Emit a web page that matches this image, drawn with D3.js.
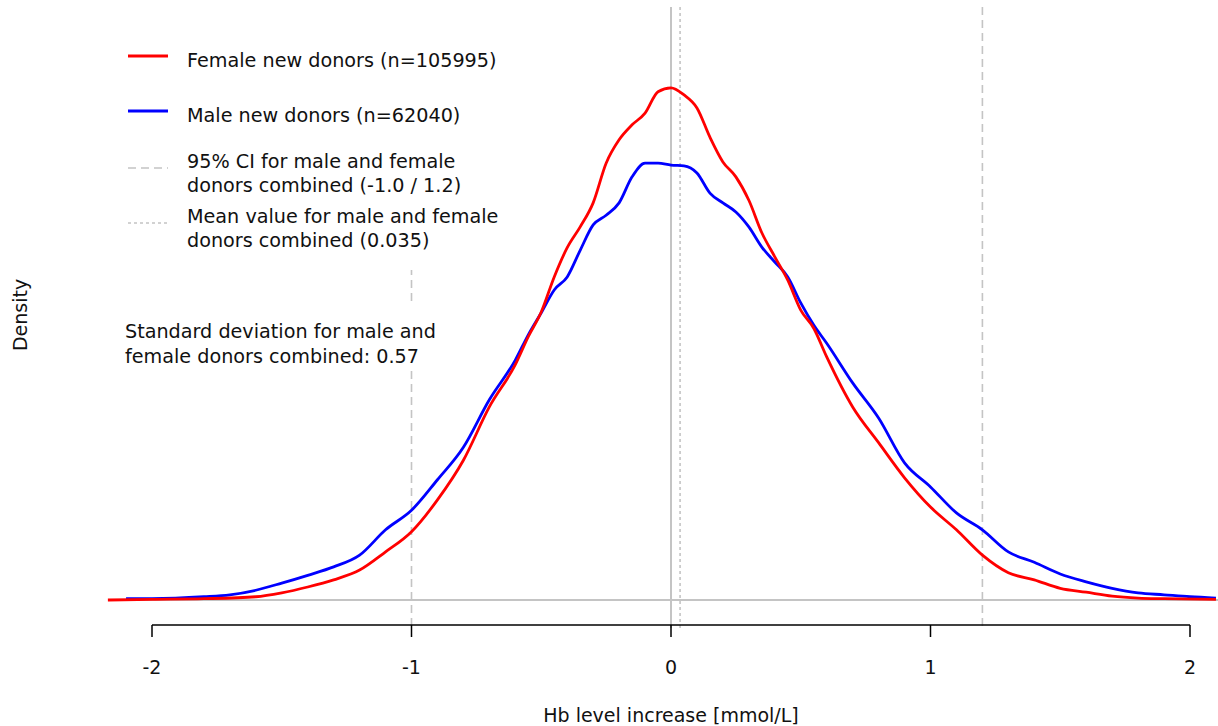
<!DOCTYPE html>
<html>
<head>
<meta charset="utf-8">
<script src="https://cdn.jsdelivr.net/npm/d3@7"></script>
<style>
  html, body { margin: 0; padding: 0; background: #fff; }
  svg { display: block; }
  text { font-family: "DejaVu Sans", "Liberation Sans", Arial, sans-serif; fill: #111; }
</style>
</head>
<body>
<svg id="chart" width="1218" height="726"></svg>
<script>
// ---- data ----
const femaleX = [-2.17, -2.0, -1.8, -1.6, -1.5, -1.4, -1.3, -1.2, -1.1, -1.0, -0.9, -0.8, -0.7, -0.6, -0.55, -0.5, -0.45, -0.4, -0.35, -0.3, -0.25, -0.2, -0.15, -0.1, -0.05, 0, 0.05, 0.1, 0.15, 0.2, 0.25, 0.3, 0.35, 0.4, 0.45, 0.5, 0.55, 0.6, 0.7, 0.8, 0.9, 1.0, 1.1, 1.2, 1.3, 1.4, 1.5, 1.6, 1.7, 1.8, 1.9, 2.1];
const femaleDensity = [0, 0.001, 0.002, 0.005, 0.011, 0.020, 0.031, 0.046, 0.074, 0.105, 0.154, 0.215, 0.297, 0.362, 0.405, 0.443, 0.497, 0.542, 0.574, 0.611, 0.672, 0.708, 0.731, 0.749, 0.782, 0.788, 0.777, 0.757, 0.712, 0.674, 0.651, 0.615, 0.565, 0.528, 0.492, 0.446, 0.418, 0.374, 0.297, 0.242, 0.188, 0.143, 0.108, 0.069, 0.042, 0.031, 0.018, 0.012, 0.006, 0.003, 0.002, 0.001];

const maleX = [-2.1, -2.0, -1.8, -1.7, -1.6, -1.5, -1.4, -1.3, -1.2, -1.1, -1.0, -0.9, -0.8, -0.7, -0.6, -0.55, -0.5, -0.45, -0.4, -0.35, -0.3, -0.25, -0.2, -0.15, -0.1, -0.05, 0, 0.05, 0.1, 0.15, 0.2, 0.25, 0.3, 0.35, 0.4, 0.45, 0.5, 0.55, 0.6, 0.7, 0.8, 0.9, 1.0, 1.1, 1.2, 1.3, 1.4, 1.5, 1.6, 1.7, 1.8, 1.9, 2.0, 2.1];
const maleDensity = [0.002, 0.002, 0.005, 0.008, 0.015, 0.026, 0.038, 0.051, 0.069, 0.108, 0.138, 0.185, 0.235, 0.308, 0.369, 0.408, 0.442, 0.477, 0.497, 0.538, 0.577, 0.592, 0.611, 0.651, 0.672, 0.672, 0.669, 0.668, 0.657, 0.626, 0.611, 0.597, 0.574, 0.543, 0.520, 0.497, 0.457, 0.423, 0.395, 0.334, 0.280, 0.211, 0.174, 0.134, 0.108, 0.074, 0.058, 0.040, 0.028, 0.018, 0.011, 0.008, 0.005, 0.003];

const xTicks = [-2, -1, 0, 1, 2];
const ciBounds = [-1.0, 1.2];
const meanValue = 0.035;

const legendLabels = [
  ["Female new donors (n=105995)"],
  ["Male new donors (n=62040)"],
  ["95% CI for male and female", "donors combined (-1.0 / 1.2)"],
  ["Mean value for male and female", "donors combined (0.035)"]
];
const sdLabel = ["Standard deviation for male and", "female donors combined: 0.57"];
const xTitle = "Hb level increase [mmol/L]";
const yTitle = "Density";

// ---- drawing ----
const svg = d3.select("#chart");
const W = 1218, H = 726;

const x = d3.scaleLinear().domain([-2, 2]).range([152, 1190]);
const y = d3.scaleLinear().domain([0, 0.8]).range([600, 80]);

const plotTop = 7, plotBottom = 628, plotLeft = 108;

// reference lines
svg.append("line")
  .attr("x1", plotLeft).attr("x2", W)
  .attr("y1", y(0)).attr("y2", y(0))
  .attr("stroke", "#c4c4c4").attr("stroke-width", 2);

svg.append("line")
  .attr("x1", x(0)).attr("x2", x(0))
  .attr("y1", plotTop).attr("y2", plotBottom)
  .attr("stroke", "#c4c4c4").attr("stroke-width", 2);

svg.append("line")
  .attr("x1", x(meanValue)).attr("x2", x(meanValue))
  .attr("y1", plotTop).attr("y2", plotBottom)
  .attr("stroke", "#c4c4c4").attr("stroke-width", 1.6)
  .attr("stroke-dasharray", "3,3");

ciBounds.forEach(v => {
  svg.append("line")
    .attr("x1", x(v)).attr("x2", x(v))
    .attr("y1", plotTop).attr("y2", plotBottom)
    .attr("stroke", "#c4c4c4").attr("stroke-width", 1.6)
    .attr("stroke-dasharray", "8,5");
});

// density curves
const line = d3.line().x(d => x(d[0])).y(d => y(d[1])).curve(d3.curveMonotoneX);
const maleData = maleX.map((v, i) => [v, maleDensity[i]]);
const femaleData = femaleX.map((v, i) => [v, femaleDensity[i]]);

svg.append("path").datum(maleData)
  .attr("d", line).attr("fill", "none")
  .attr("stroke", "#0000ff").attr("stroke-width", 2.8)
  .attr("stroke-linejoin", "round");
svg.append("path").datum(femaleData)
  .attr("d", line).attr("fill", "none")
  .attr("stroke", "#ff0000").attr("stroke-width", 2.8)
  .attr("stroke-linejoin", "round");

// legend box (white background)
svg.append("rect").attr("x", plotLeft + 2).attr("y", 0)
  .attr("width", 405).attr("height", 270).attr("fill", "#fff");

const legendRows = [
  { ys: [66.5], sy: 56, color: "#ff0000", width: 3, dash: null },
  { ys: [121.5], sy: 111, color: "#0000ff", width: 3, dash: null },
  { ys: [167.5, 192], sy: 168, color: "#c4c4c4", width: 1.5, dash: "8,5" },
  { ys: [222.5, 247], sy: 223, color: "#c4c4c4", width: 1.5, dash: "3,3" }
];
legendRows.forEach((r, i) => {
  const ln = svg.append("line")
    .attr("x1", 128).attr("x2", 168)
    .attr("y1", r.sy).attr("y2", r.sy)
    .attr("stroke", r.color).attr("stroke-width", r.width);
  if (r.dash) ln.attr("stroke-dasharray", r.dash);
  legendLabels[i].forEach((t, j) => {
    svg.append("text").attr("x", 187).attr("y", r.ys[j])
      .attr("font-size", 19.2).text(t);
  });
});

// SD annotation with white background
svg.append("rect").attr("x", 118).attr("y", 303)
  .attr("width", 322).attr("height", 63).attr("fill", "#fff");
sdLabel.forEach((t, j) => {
  svg.append("text").attr("x", 125).attr("y", 337.5 + j * 25)
    .attr("font-size", 19.2).text(t);
});

// x axis
const axisY = 625;
svg.append("line")
  .attr("x1", x(-2)).attr("x2", x(2))
  .attr("y1", axisY).attr("y2", axisY)
  .attr("stroke", "#000").attr("stroke-width", 1.5);
svg.selectAll(".tick").data(xTicks).enter().append("line")
  .attr("x1", d => x(d)).attr("x2", d => x(d))
  .attr("y1", axisY).attr("y2", axisY + 12)
  .attr("stroke", "#000").attr("stroke-width", 1.5);
svg.selectAll(".ticklabel").data(xTicks).enter().append("text")
  .attr("x", d => x(d)).attr("y", 674)
  .attr("text-anchor", "middle").attr("font-size", 19)
  .text(d => d);

// titles
svg.append("text").attr("x", x(0)).attr("y", 722)
  .attr("text-anchor", "middle").attr("font-size", 19).text(xTitle);
svg.append("text")
  .attr("transform", "translate(27,315) rotate(-90)")
  .attr("text-anchor", "middle").attr("font-size", 19).text(yTitle);
</script>
</body>
</html>
